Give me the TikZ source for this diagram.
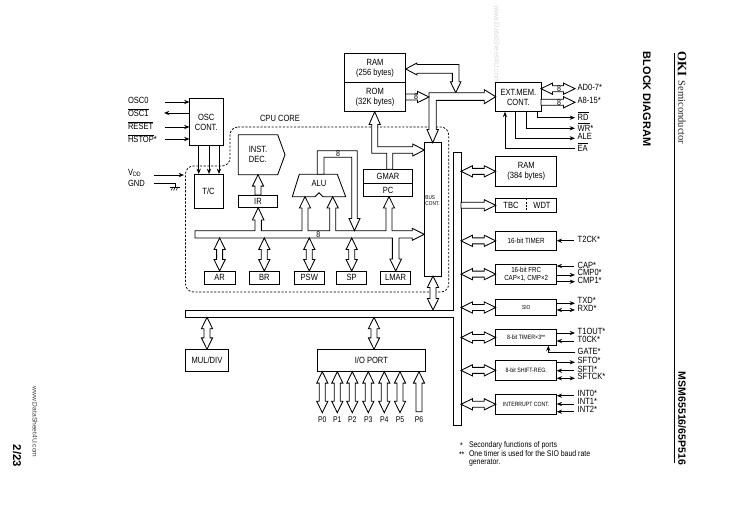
\documentclass[tikz,border=0pt]{standalone}
\usepackage{fontspec}
\setmainfont[FakeStretch=0.84]{Liberation Sans}
\newfontfamily\plainsans{Liberation Sans}
\newfontfamily\serifx{Liberation Serif}
\usetikzlibrary{arrows.meta,calc}
\newcommand{\fs}[1]{\fontsize{#1}{\the\dimexpr#1pt*113/100\relax}\selectfont}
\newcommand{\ov}[1]{\ensuremath{\overline{\hbox{#1}}}}
\tikzset{
  x=0.75pt,y=-0.75pt,
  outl/.style={draw=black,line width=0.65pt,fill=white,line join=miter},
  blk/.style={outl,inner sep=0pt,outer sep=0pt,align=center,font=\fs{6.75}},
  lab/.style={inner sep=0pt,outer sep=0pt,anchor=west,font=\fs{6.75}},
  sig/.style={draw=black,line width=0.7pt,-{Stealth[length=4pt,width=3.2pt]}},
  sigboth/.style={draw=black,line width=0.7pt,{Stealth[length=4pt,width=3.2pt]}-{Stealth[length=4pt,width=3.2pt]}},
  wire/.style={draw=black,line width=0.7pt},
  cpudash/.style={draw=black,line width=0.55pt,dash pattern=on 1.6pt off 1.2pt,rounded corners=6pt},
  rot/.style={rotate=-90,inner sep=0pt,outer sep=0pt},
  aa/.style={shift={(\x1,\y1)},rotate=\n2}
}
% box from corners
\newcommand{\bx}[6][]{\node[blk,#1,minimum width={(#4-#2)*0.75pt},minimum height={(#5-#3)*0.75pt}] (#6) at ({(#2+#4)/2},{(#3+#5)/2})}
% block arrows: head half width, shaft half width, head length in pt
\newcommand{\dbl}[2]{\draw[outl] let \p1=#1,\p2=#2,\n1={veclen(\x2-\x1,\y2-\y1)},\n2={atan2(\y2-\y1,\x2-\x1)} in
  ([aa]0pt,0pt) -- ([aa]8.6pt,4.2pt) -- ([aa]8.6pt,2.25pt) -- ([aa]\n1-8.6pt,2.25pt) -- ([aa]\n1-8.6pt,4.2pt) -- ([aa]\n1,0pt)
  -- ([aa]\n1-8.6pt,-4.2pt) -- ([aa]\n1-8.6pt,-2.25pt) -- ([aa]8.6pt,-2.25pt) -- ([aa]8.6pt,-4.2pt) -- cycle;}
\newcommand{\sgl}[2]{\draw[outl] let \p1=#1,\p2=#2,\n1={veclen(\x2-\x1,\y2-\y1)},\n2={atan2(\y2-\y1,\x2-\x1)} in
  ([aa]0pt,2.25pt) -- ([aa]\n1-8.6pt,2.25pt) -- ([aa]\n1-8.6pt,4.2pt) -- ([aa]\n1,0pt)
  -- ([aa]\n1-8.6pt,-4.2pt) -- ([aa]\n1-8.6pt,-2.25pt) -- ([aa]0pt,-2.25pt) -- cycle;}
\begin{document}
\begin{tikzpicture}
\useasboundingbox[fill=white] (0,0) rectangle (729,516);
% watermark and page furniture
\node[rot,anchor=east,text=black!14,font=\plainsans\fs{5.6}] (wm) at (497,84) {www.DataSheet4U.com};
\node[rot,anchor=west,text=black!75,font=\plainsans\fs{5}] (wwwl) at (35,387) {www.DataSheet4U.com};
\node[rot,anchor=west,font=\plainsans\bfseries\fs{8.5}] (pg) at (17,445) {2/23};
\node[rot,anchor=west,font=\serifx\bfseries\fs{9.6}] (oki) at (682,52) {OKI};
\node[rot,anchor=west,text=black!85,font=\serifx\fs{7.9}] (semi) at (682,80.7) {Semiconductor};
\node[rot,anchor=west,font=\plainsans\bfseries\fs{8.2}] (bd) at (647,52) {BLOCK DIAGRAM};
\node[rot,anchor=east,font=\plainsans\bfseries\fs{7.9}] (msm) at (682,465) {MSM65516/65P516};
\coordinate (ruletop) at (674.3,53);
\coordinate (rulebot) at (674.3,463);
\draw[wire] (ruletop) -- (rulebot);

% CPU core outline
\draw[cpudash] (230,127) -- (448.7,127) -- (448.7,292) -- (185.5,292) -- (185.5,166) -- (230,166) -- cycle;
\node[lab] (cpu) at (260,118.5) {CPU CORE};

% main blocks
\bx{189.5}{98.7}{223}{145.5}{osc} {OSC\\CONT.};
\bx{194}{174}{223}{208}{tc} {T/C};
\bx{238.3}{195}{277.7}{207.7}{ir} {IR};
\bx{344.3}{53.3}{405.7}{82.7}{ram} {RAM\\(256 bytes)};
\bx{344.3}{82.7}{405.7}{111.7}{rom} {ROM\\(32K bytes)};
\bx{495.7}{82.7}{541}{111.7}{ext} {EXT.MEM.\\CONT.};
\bx{363.3}{169.3}{412.7}{183.3}{gmar} {GMAR};
\bx{363.3}{183.3}{412.7}{196.7}{pc} {PC};
\bx{424.3}{142.7}{441.7}{276}{buscont} {};
\node[inner sep=0pt,align=left,font=\fs{4.2}] (busconttxt) at (432.5,200.5) {BUS\\CONT.};
\bx{204.3}{271}{235}{284.3}{ar} {AR};
\bx{249.3}{271}{279.3}{284.3}{br} {BR};
\bx{294.3}{271}{324.3}{284.3}{psw} {PSW};
\bx{336.7}{271}{366.7}{284.3}{sp} {SP};
\bx{380.7}{271}{410.7}{284.3}{lmar} {LMAR};
\bx{185.7}{349.3}{228.3}{371.7}{muldiv} {MUL/DIV};
\bx{317}{349.3}{425.7}{371.7}{io} {I/O PORT};
\bx{495.7}{156.7}{556.7}{186}{ramb} {RAM\\(384 bytes)};
\bx{495.7}{198.3}{556.7}{212.3}{tbc} {};
\node[font=\fs{6.75},inner sep=0pt] (tbctxt) at (511,205) {TBC};
\node[font=\fs{6.75},inner sep=0pt] (wdttxt) at (542,205) {WDT};
\draw[wire,dash pattern=on 1.5pt off 1pt] (tbc.north) -- (tbc.south);
\bx[font=\fs{5.6}]{495.7}{231}{556.7}{250.7}{timer} {16-bit TIMER};
\bx[font=\fs{5.5}]{495.7}{264.3}{556.7}{284}{frc} {16-bit FRC\\CAP×1, CMP×2};
\bx[font=\fs{4.3}]{495.7}{299.3}{556.7}{315.7}{sio} {SIO};
\bx[font=\fs{4.7}]{495.7}{329.3}{556.7}{345.7}{timerb} {8-bit TIMER×3**};
\bx[font=\fs{4.7}]{495.7}{360}{556.7}{380.7}{shift} {8-bit SHIFT-REG.};
\bx[font=\fs{4.6}]{495.7}{394.3}{556.7}{414.3}{intc} {INTERRUPT CONT.};

% instruction decoder and ALU
\draw[outl] (238.3,134.7) -- (277.7,134.7) -- (285,154.7) -- (277.7,174.7) -- (238.3,174.7) -- cycle;
\node[inner sep=0pt,align=center,font=\fs{6.75},minimum width=29.5pt,minimum height=30pt] (inst) at (258,154.7) {INST.\\DEC.};
\draw[outl] (299.3,174.3) -- (337.3,174.3) -- (345.7,196.7) -- (323,196.7) -- (319,192.7) -- (315,196.7) -- (292.3,196.7) -- cycle;
\node[inner sep=0pt,font=\fs{6.75},minimum width=28pt,minimum height=12.5pt] (alu) at (319,183) {ALU};

% buses
\coordinate (vbus) at (461,300);
\coordinate (hbus) at (300,317.3);
\coordinate (hbust) at (300,310);
\coordinate (ibust) at (300,230.7);
\coordinate (ibusb) at (300,238);
\draw[outl] (453.7,152) -- (461,152) -- (461,425.7) -- (453.7,425.7) -- (453.7,317.3) -- (185.7,317.3) -- (185.7,310) -- (453.7,310) -- cycle;
% internal bus with branches
\draw[outl] (195,230.7) -- (255,230.7) -- (255,220) -- (252.4,220) -- (258.2,207.7) -- (264,220) -- (261.4,220) -- (261.4,230.7)
 -- (302,230.7) -- (302,208) -- (299.4,208) -- (305,196.7) -- (310.6,208) -- (308,208) -- (308,230.7)
 -- (329.7,230.7) -- (329.7,208) -- (327.1,208) -- (332.7,196.7) -- (338.3,208) -- (335.7,208) -- (335.7,230.7)
 -- (386,230.7) -- (386,208) -- (383.4,208) -- (389,196.7) -- (394.6,208) -- (392,208) -- (392,230.7)
 -- (412.3,230.7) -- (412.3,228.3) -- (424.3,234.3) -- (412.3,240.3) -- (412.3,238)
 -- (399,238) -- (399,259) -- (401.5,259) -- (395.7,271) -- (389.9,259) -- (392.4,259) -- (392.4,238)
 -- (195,238) -- cycle;
\node[fill=none,inner sep=0pt,font=\fs{6.3}] (b8c) at (318.3,234.2) {8};
% ALU loop
\draw[outl] (317.3,174.3) -- (317.3,150.7) -- (357.3,150.7) -- (357.3,218.5) -- (360,218.5) -- (354.5,230.7) -- (349,218.5) -- (351.7,218.5) -- (351.7,157.3) -- (324,157.3) -- (324,174.3) -- cycle;
\node[inner sep=0pt,font=\fs{6.3}] (b8a) at (338,153.8) {8};
% ROM/GMAR to bus control
\draw[outl] (374.7,111.7) -- (380.3,124.5) -- (377.7,124.5) -- (377.7,146.7) -- (412.7,146.7) -- (412.7,144) -- (424.3,150) -- (412.7,156) -- (412.7,153.3)
 -- (392.7,153.3) -- (392.7,169.3) -- (386.7,169.3) -- (386.7,153.3) -- (371.7,153.3) -- (371.7,124.5) -- (369.1,124.5) -- cycle;
% RAM to bus
\draw[outl] (405.7,69) -- (417,63) -- (417,64.5) -- (459,64.5) -- (459,81.7) -- (461,81.7) -- (455.7,92.7) -- (450.4,81.7) -- (452.4,81.7) -- (452.4,73.3) -- (417,73.3) -- (417,75) -- cycle;
% memory bus
\draw[outl] (429,92.7) -- (484.3,92.7) -- (484.3,89.7) -- (495.7,96.7) -- (484.3,103.7) -- (484.3,100.4) -- (436.3,100.4) -- (436.3,129.5) -- (438.4,129.5) -- (432.7,142.7) -- (427,129.5) -- (429,129.5) -- cycle;
\sgl{(rom.east |- 0,97)}{(429,97)}
\node[inner sep=0pt,font=\fs{6.3}] (b8r) at (416,97) {8};

% block arrows
\sgl{(ir.north)}{(258,174.7)}
\dbl{(ar.north |- ibusb)}{(ar.north)}
\dbl{(br.north |- ibusb)}{(br.north)}
\dbl{(psw.north |- ibusb)}{(psw.north)}
\dbl{(sp.north |- ibusb)}{(sp.north)}
\dbl{(buscont.south)}{(buscont.south |- hbust)}
\dbl{(muldiv.north |- hbus)}{(muldiv.north)}
\dbl{(374,0 |- hbus)}{(374,0 |- io.north)}
\dbl{(vbus |- ramb.west)}{(ramb.west)}
\sgl{(vbus |- tbc.west)}{(tbc.west)}
\dbl{(vbus |- timer.west)}{(timer.west)}
\dbl{(vbus |- frc.west)}{(frc.west)}
\dbl{(vbus |- sio.west)}{(sio.west)}
\dbl{(vbus |- timerb.west)}{(timerb.west)}
\dbl{(vbus |- shift.west)}{(shift.west)}
\dbl{(vbus |- intc.west)}{(intc.west)}
\dbl{(ext.east |- 0,88.7)}{(575,88.7)}
\sgl{(ext.east |- 0,102.3)}{(575,102.3)}
\node[inner sep=0pt,font=\fs{6.3}] (b8d) at (559,88.7) {8};
\node[inner sep=0pt,font=\fs{6.3}] (b8e) at (559,102.3) {8};

% ports
\foreach \nm/\xx/\tx in {p0/322.3/P0,p1/337.3/P1,p2/352.3/P2,p3/368.3/P3,p4/384.3/P4,p5/400/P5}{
  \node[inner sep=0pt,font=\fs{6.2}] (\nm) at (\xx,419.5) {\tx};
  \dbl{(\nm |- io.south)}{(\nm |- 0,412.7)}
}
\node[inner sep=0pt,font=\fs{6.2}] (p6) at (419,419.5) {P6};
\sgl{(p6 |- 0,411.7)}{(p6 |- io.south)}

% left signals
\node[lab] (osc0) at (128,100) {OSC0};
\node[lab] (osc1) at (128,112.5) {\ov{OSC1}};
\node[lab] (reset) at (128,125.5) {\ov{RESET}};
\node[lab] (hstop) at (128,138.5) {\ov{HSTOP}*};
\draw[sig] (165,102) -- (osc.west |- 165,102);
\draw[sig] (osc.west |- 165,113) -- (164,113);
\draw[sig] (165,127) -- (osc.west |- 165,127);
\draw[sig] (165,139) -- (osc.west |- 165,139);
\draw[sig] (198.7,0 |- osc.south) -- (198.7,0 |- tc.north);
\draw[sig] (209,0 |- osc.south) -- (209,0 |- tc.north);
\draw[sig] (219,0 |- osc.south) -- (219,0 |- tc.north);
\node[lab] (vdd) at (128,173) {V\textsubscript{DD}};
\node[lab] (gnd) at (128,183.5) {GND};
\coordinate (vddin) at (154,175);
\coordinate (vddtip) at (184,175);
\draw[sig] (vddin) -- (vddtip);
\coordinate (gnda) at (154,183);
\coordinate (gndb) at (175,183);
\coordinate (gndc) at (175,187);
\draw[wire,line width=0.5pt] (gnda) -- (gndb) -- (gndc);
\draw[line width=0.5pt] (170,187) -- (179.5,187);
\draw[line width=0.4pt] (173,187) -- (171,190.5) (175.5,187) -- (173.5,190.5) (178,187) -- (176,190.5);

% external memory signals
\node[lab] (ad) at (577.7,87) {AD0-7*};
\node[lab] (a8) at (577.7,100.7) {A8-15*};
\node[lab] (rd) at (577.7,116) {\ov{RD}};
\node[lab] (wr) at (577.7,126.7) {\ov{WR}*};
\node[lab] (ale) at (577.7,136.7) {ALE};
\node[lab] (ea) at (577.7,146.7) {\ov{EA}};
\draw[sig] (537.3,0 |- ext.south) |- (575,117.7);
\draw[sig] (526,0 |- ext.south) |- (575,128.3);
\draw[sig] (515.3,0 |- ext.south) |- (575,138.3);
\draw[sig] (575,148.3) -| (505,0 |- ext.south);

% right signals
\node[lab] (t2ck) at (577.7,239.5) {T2CK*};
\draw[sig] (574,240.7) -- (timer.east |- 574,240.7);
\node[lab] (cap) at (577.7,265) {CAP*};
\node[lab] (cmp0) at (577.7,272.5) {CMP0*};
\node[lab] (cmp1) at (577.7,280.7) {CMP1*};
\draw[sig] (574,266) -- (frc.east |- 574,266);
\draw[sig] (frc.east |- 574,275) -- (575,275);
\draw[sig] (frc.east |- 574,281.7) -- (575,281.7);
\node[lab] (txd) at (577.7,300.7) {TXD*};
\node[lab] (rxd) at (577.7,308.3) {RXD*};
\draw[sig] (sio.east |- 574,303.3) -- (575,303.3);
\draw[sigboth] (sio.east |- 574,310) -- (575,310);
\node[lab] (t1out) at (577.7,331.5) {T1OUT*};
\node[lab] (t0ck) at (577.7,339.3) {T0CK*};
\node[lab] (gate) at (577.7,351.7) {GATE*};
\draw[sig] (timerb.east |- 574,333) -- (575,333);
\draw[sig] (574,341) -- (timerb.east |- 574,341);
\draw[sig] (575,352.3) -| (548.3,0 |- timerb.south);
\node[lab] (sfto) at (577.7,360.7) {SFTO*};
\node[lab] (sfti) at (577.7,369) {SFTI*};
\node[lab] (sftck) at (577.7,376.7) {SFTCK*};
\draw[sig] (shift.east |- 574,362.3) -- (575,362.3);
\draw[sig] (574,370.7) -- (shift.east |- 574,370.7);
\draw[sigboth] (shift.east |- 574,378.3) -- (575,378.3);
\node[lab] (int0) at (577.7,393) {INT0*};
\node[lab] (int1) at (577.7,401.7) {INT1*};
\node[lab] (int2) at (577.7,409.3) {INT2*};
\draw[sig] (574,395.7) -- (intc.east |- 574,395.7);
\draw[sig] (574,404) -- (intc.east |- 574,404);
\draw[sig] (574,411.7) -- (intc.east |- 574,411.7);

% footnotes
\node[lab,font=\fs{6.2}] (fa) at (460,445.5) {*};
\node[lab,font=\fs{6.2}] (fb) at (469,445) {Secondary functions of ports};
\node[lab,font=\fs{6.2}] (fc) at (459,454.5) {**};
\node[lab,font=\fs{6.2}] (fd) at (469,454) {One timer is used for the SIO baud rate};
\node[lab,font=\fs{6.2}] (fe) at (469,463) {generator.};
\end{tikzpicture}
\end{document}
